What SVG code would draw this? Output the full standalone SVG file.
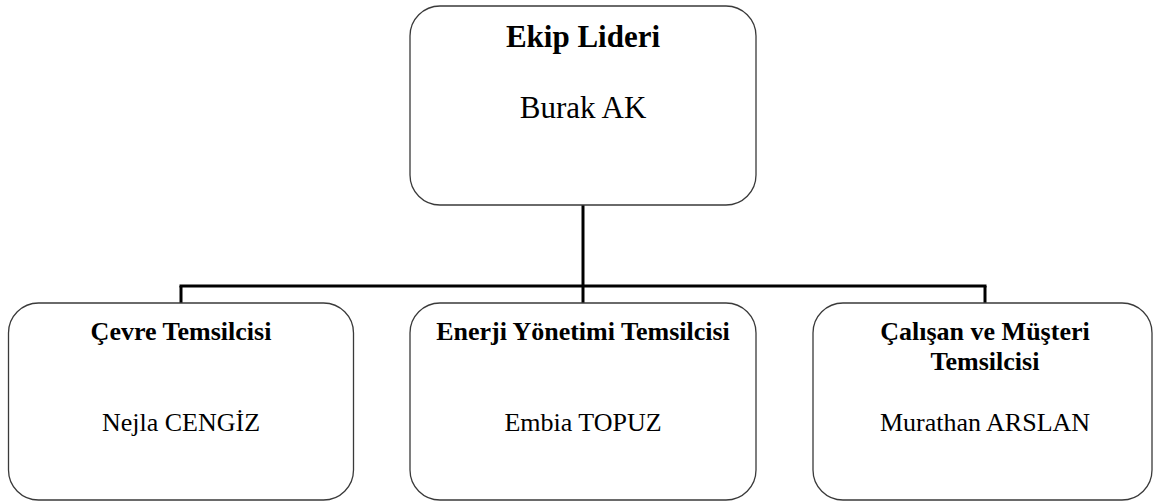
<svg xmlns="http://www.w3.org/2000/svg" width="1153" height="502" viewBox="0 0 1153 502">
<style>
.box{fill:#ffffff;stroke:#3a3a3a;stroke-width:1.3}
.conn{fill:none;stroke:#000000;stroke-width:3}
text{font-family:"Liberation Serif","Times New Roman",serif;fill:#000000;text-anchor:middle}
.t1{font-size:31px;font-weight:bold}
.n1{font-size:31px}
.t2{font-size:26px;font-weight:bold}
.n2{font-size:26px}
</style>
<rect width="1153" height="502" fill="#ffffff"/>
<g id="connectors">
<line class="conn" x1="583" y1="205" x2="583" y2="303"/>
<line class="conn" x1="179.5" y1="286" x2="986.5" y2="286"/>
<line class="conn" x1="181" y1="286" x2="181" y2="303"/>
<line class="conn" x1="985" y1="286" x2="985" y2="303"/>
</g>
<g id="node-lider">
<rect class="box" x="410" y="6" width="346" height="199" rx="30" ry="30"/>
<text class="t1" x="583" y="47">Ekip Lideri</text>
<text class="n1" x="583" y="118">Burak AK</text>
</g>
<g id="node-cevre">
<rect class="box" x="8.5" y="303" width="345" height="197" rx="30" ry="30"/>
<text class="t2" x="181" y="340">Çevre Temsilcisi</text>
<text class="n2" x="181" y="431">Nejla CENGİZ</text>
</g>
<g id="node-enerji">
<rect class="box" x="410" y="303" width="346" height="197" rx="30" ry="30"/>
<text class="t2" x="583" y="340">Enerji Yönetimi Temsilcisi</text>
<text class="n2" x="583" y="431">Embia TOPUZ</text>
</g>
<g id="node-calisan">
<rect class="box" x="813" y="303" width="339" height="197" rx="30" ry="30"/>
<text class="t2" x="985" y="340">Çalışan ve Müşteri</text>
<text class="t2" x="985" y="370">Temsilcisi</text>
<text class="n2" x="985" y="431">Murathan ARSLAN</text>
</g>
</svg>
